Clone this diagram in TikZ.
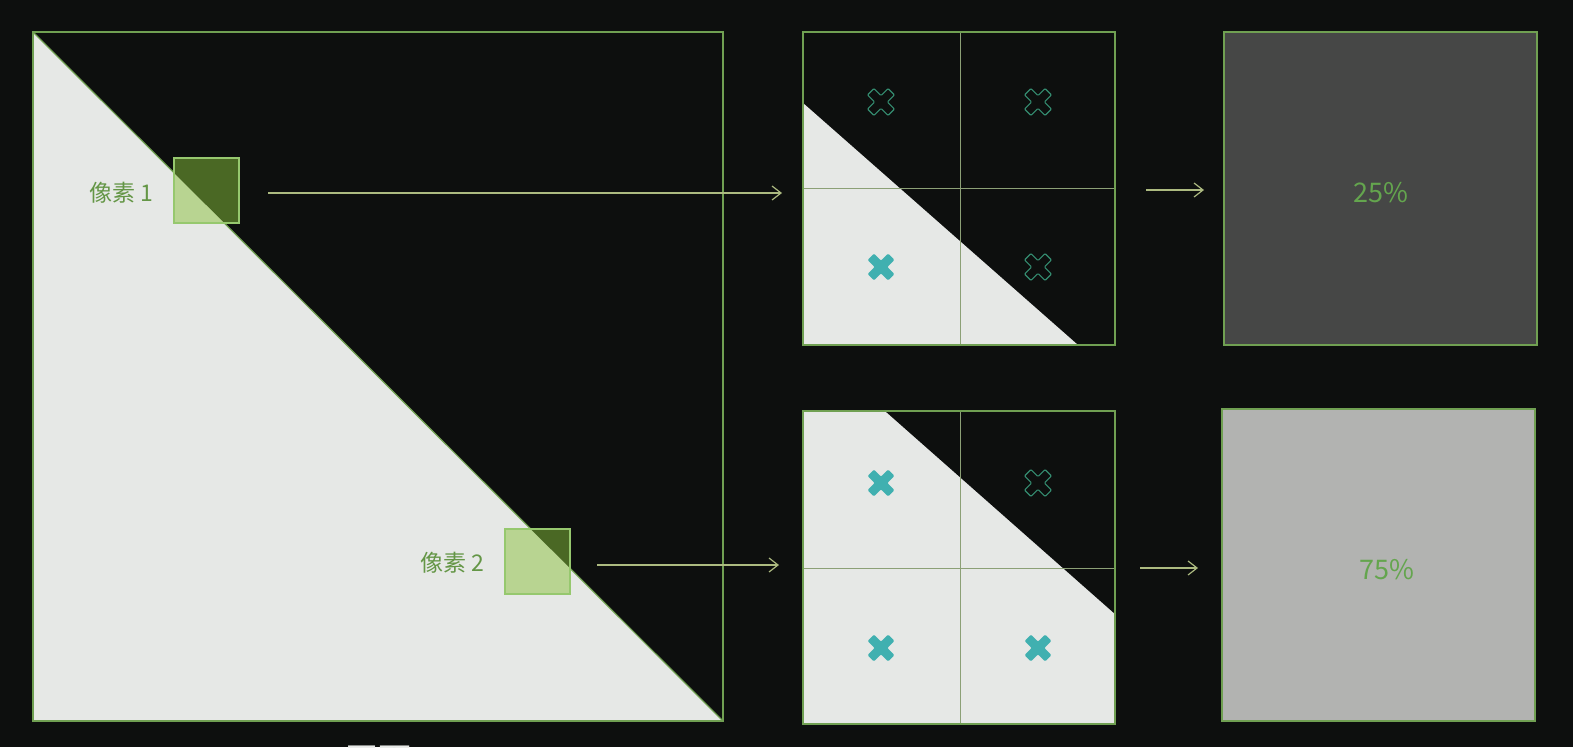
\documentclass[tikz,border=0pt]{standalone}
\usepackage{fontspec}
\setmainfont{Noto Sans CJK SC}
\usetikzlibrary{arrows.meta}
\definecolor{bg}{RGB}{13,15,14}
\definecolor{wht}{RGB}{230,232,230}
\definecolor{framegreen}{RGB}{112,160,82}
\definecolor{gridcol}{RGB}{140,160,118}
\definecolor{arrowcol}{RGB}{172,186,128}
\definecolor{pxlight}{RGB}{184,212,145}
\definecolor{pxdark}{RGB}{74,104,36}
\definecolor{pxborder}{RGB}{150,200,110}
\definecolor{labelgreen}{RGB}{100,150,70}
\definecolor{boxdark}{RGB}{70,71,70}
\definecolor{boxlight}{RGB}{178,179,177}
\definecolor{pctgreen}{RGB}{100,165,78}
\definecolor{tealfill}{RGB}{64,176,176}
\definecolor{tealline}{RGB}{52,140,112}
\begin{document}
\begin{tikzpicture}[x=1pt,y=-1pt,
  frame/.style={draw=framegreen,line width=1.2pt},
  gridline/.style={draw=gridcol,line width=0.8pt},
  pxbox/.style={draw=pxborder,line width=1.2pt},
  flow/.style={draw=arrowcol,line width=1.2pt,-{Straight Barb[length=9pt,width=14pt]}},
  pixlabel/.style={text=labelgreen,font=\fontsize{23}{23}\selectfont,inner sep=0pt},
  pct/.style={text=pctgreen,font=\fontsize{27}{27}\selectfont,inner sep=0pt},
  xshape/.pic={\path[pic actions,rotate=45,rounded corners=1pt]
     (4.5,14.5) -- (4.5,4.5) -- (14.5,4.5) -- (14.5,-4.5) -- (4.5,-4.5) -- (4.5,-14.5)
     -- (-4.5,-14.5) -- (-4.5,-4.5) -- (-14.5,-4.5) -- (-14.5,4.5) -- (-4.5,4.5) -- (-4.5,14.5) -- cycle;},
  xfilled/.style={fill=tealfill},
  xhollow/.style={draw=tealline,line width=1.1pt}
]
% background / bounding box
\fill[bg] (0,0) rectangle (1573,747);
\useasboundingbox (0,0) rectangle (1573,747);

% big square
\fill[wht] (33,32) -- (33,721) -- (723,721) -- cycle;
\draw[frame] (33,32) rectangle (723,721);
\draw[frame] (33,32) -- (723,721);

% pixel 1
\fill[pxlight] (174,158) rectangle (239,223);
\begin{scope}
  \clip (33,32) -- (723,32) -- (723,721) -- cycle;
  \fill[pxdark] (174,158) rectangle (239,223);
\end{scope}
\draw[pxbox] (174,158) rectangle (239,223);
\node[pixlabel] (lab1) at (121,193) {像素 1};

% pixel 2
\fill[pxlight] (505,529) rectangle (570,594);
\begin{scope}
  \clip (33,32) -- (723,32) -- (723,721) -- cycle;
  \fill[pxdark] (505,529) rectangle (570,594);
\end{scope}
\draw[pxbox] (505,529) rectangle (570,594);
\node[pixlabel] (lab2) at (452,563) {像素 2};

% top sample square
\fill[wht] (803,103) -- (1078,345) -- (803,345) -- cycle;
\draw[gridline] (960,32) -- (960,345);
\draw[gridline] (803,188) -- (1115,188);
\draw[frame] (803,32) rectangle (1115,345);
\pic[xhollow] at (881,102) {xshape};
\pic[xhollow] at (1038,102) {xshape};
\pic[xfilled] at (881,267) {xshape};
\pic[xhollow] at (1038,267) {xshape};

% bottom sample square
\fill[wht] (803,411) rectangle (1115,724);
\fill[bg] (885,411) -- (1115,411) -- (1115,614) -- cycle;
\draw[gridline] (960,411) -- (960,724);
\draw[gridline] (803,568) -- (1115,568);
\draw[frame] (803,411) rectangle (1115,724);
\pic[xfilled] at (881,483) {xshape};
\pic[xhollow] at (1038,483) {xshape};
\pic[xfilled] at (881,648) {xshape};
\pic[xfilled] at (1038,648) {xshape};

% result boxes
\fill[boxdark] (1224,32) rectangle (1537,345);
\draw[frame] (1224,32) rectangle (1537,345);
\node[pct] (p25) at (1381,193) {25\%};
\fill[boxlight] (1222,409) rectangle (1535,721);
\draw[frame] (1222,409) rectangle (1535,721);
\node[pct] (p75) at (1387,570) {75\%};

% arrows
\coordinate (a1s) at (268,193);
\coordinate (a1e) at (782,193);
\coordinate (a2s) at (597,565);
\coordinate (a2e) at (779,565);
\coordinate (a3s) at (1146,190);
\coordinate (a3e) at (1204,190);
\coordinate (a4s) at (1140,568);
\coordinate (a4e) at (1198,568);
\draw[flow] (a1s) -- (a1e);
\draw[flow] (a2s) -- (a2e);
\draw[flow] (a3s) -- (a3e);
\draw[flow] (a4s) -- (a4e);

% cut-off caption at bottom
\begin{scope}
  \clip (0,0) rectangle (1573,747);
  \node[text=wht,font=\fontsize{33}{33}\selectfont,inner sep=0pt,anchor=base west] (cap) at (345,771) {画面};
\end{scope}
\end{tikzpicture}
\end{document}
